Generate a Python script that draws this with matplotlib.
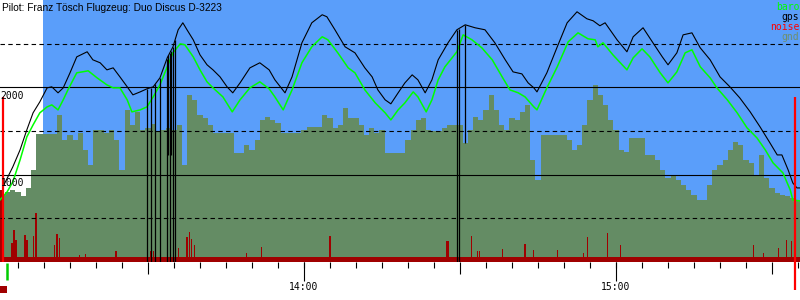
import matplotlib
matplotlib.use("Agg")
import matplotlib.pyplot as plt
import numpy as np

# time in minutes after 13:00, altitudes in metres

title = "Pilot: Franz Tösch Flugzeug: Duo Discus D-3223"

gps_t = [2.1, 4.0, 5.4, 6.7, 7.9, 9.2, 10.6, 11.5, 12.7, 13.7, 15.0, 16.3, 18.3, 19.4,
         20.8, 22.1, 23.3, 24.6, 26.0, 27.1, 28.5, 29.8, 31.0, 32.3, 33.7, 34.8, 35.8,
         36.7, 37.5, 38.7, 40.0, 41.35, 42.5, 43.85, 45.2, 46.3, 47.7, 49.6, 51.5, 53.3,
         54.4, 56.35, 57.7, 59.6, 61.5, 63.5, 64.4, 65.95, 67.9, 69.8, 71.7, 73.1, 74.2,
         75.6, 76.7, 78.1, 79.4, 80.8, 81.9, 83.3, 84.6, 85.8, 87.7, 89.4, 91.0, 92.9,
         94.8, 96.7, 98.7, 100.2, 101.9, 103.1, 104.2, 104.8, 106.7, 108.7, 110.6, 112.5,
         114.4, 115.6, 116.9, 117.9, 120.2, 122.1, 123.3, 125.2, 127.1, 128.9, 130.0,
         131.7, 132.9, 134.6, 136.2, 138.1, 140.0, 141.9, 143.8, 145.8, 147.7, 149.6,
         151.0, 151.9, 153.1, 154.0, 154.8, 155.4]
gps_alt = [860, 1089, 1284, 1513, 1708, 1834, 1994, 2006, 1937, 1994, 2166, 2349, 2407, 2315,
           2281, 2200, 2223, 2120, 2006, 1914, 1948, 1983, 2006, 2109, 2338, 2464, 2659,
           2739, 2659, 2544, 2372, 2258, 2200, 2120, 2006, 1937, 2051, 2223, 2281, 2200,
           2086, 1937, 2120, 2510, 2739, 2831, 2808, 2659, 2464, 2395, 2223, 2120, 1971,
           1857, 1811, 1937, 2051, 2143, 2086, 1937, 2086, 2315, 2510, 2659, 2716, 2682,
           2659, 2510, 2315, 2177, 2154, 2051, 1994, 1948, 2166, 2464, 2739, 2865,
           2785, 2762, 2705, 2739, 2544, 2407, 2579, 2682, 2510, 2349, 2258,
           2395, 2601, 2624, 2452, 2315, 2120, 2006, 1879, 1719, 1547, 1364,
           1226, 1226, 1054, 905, 848, 848]

# gps dropouts (vertical lines down to these altitudes)
drop_t = [29.81, 30.58, 31.35, 32.31, 33.65, 33.94, 34.23, 34.42, 34.81, 35.19,
          89.43, 89.81, 90.96]
drop_alt = [0, 0, 0, 0, 0, 1226, 0, 1226, 0, 0, 0, 0, 1364]

baro_t = [1.54, 2.9, 4.0, 5.4, 6.7, 7.9, 9.2, 10.6, 11.5, 12.7, 13.7, 14.6, 16.3, 18.5,
          20.2, 22.1, 23.3, 24.6, 26.0, 26.9, 28.5, 29.8, 31.0, 32.3, 33.7, 34.8, 36.2,
          37.1, 38.7, 40.0, 41.35, 42.5, 44.4, 46.2, 47.7, 49.6, 51.5, 53.3, 54.4, 56.0,
          57.7, 59.6, 61.5, 63.5, 64.6, 66.5, 68.5, 69.8, 71.7, 73.7, 75.6, 76.7, 78.1,
          79.4, 81.0, 81.9, 83.5, 84.6, 85.8, 87.1, 89.4, 90.6, 92.3, 94.2, 96.2, 98.1,
          99.6, 101.2, 102.5, 104.2, 104.8, 106.7, 108.7, 110.8, 112.7, 114.6, 116.0,
          116.5, 117.5, 119.4, 122.1, 123.3, 125.0, 126.5, 128.5, 130.0, 131.7, 133.3,
          134.6, 136.2, 138.1, 139.4, 141.4, 143.3, 145.2, 147.1, 148.7, 150.2, 152.1,
          153.5, 154.0, 155.4]
baro_alt = [711, 802, 917, 1169, 1433, 1570, 1708, 1776, 1799, 1742, 1857, 1971, 2166, 2189,
            2109, 2028, 1994, 1994, 1857, 1719, 1742, 1776, 1891, 2028, 2235, 2395, 2498,
            2487, 2349, 2200, 2063, 1994, 1891, 1719, 1857, 1994, 2063, 1983, 1891, 1742,
            1971, 2281, 2464, 2579, 2544, 2395, 2223, 2166, 1971, 1822, 1708, 1627, 1742,
            1822, 1948, 1891, 1719, 1857, 2086, 2235, 2407, 2601, 2544, 2452, 2315, 2120,
            1971, 1937, 1891, 1776, 1742, 1994, 2235, 2521, 2624, 2556, 2544,
            2464, 2510, 2372, 2200, 2338, 2441, 2349, 2166, 2051, 2177, 2395,
            2430, 2235, 2109, 1994, 1857, 1708, 1536, 1421, 1284, 1135, 1020,
            825, 711, 699]

# terrain, one value per minute from 13:02 to 15:35
gnd_start = 2
gnd_alt = [768, 802, 825, 802, 756, 848, 1054, 1467, 1467, 1467, 1467, 1685, 1398, 1455,
           1398, 1478, 1284, 1112, 1513, 1513, 1478, 1513, 1398, 1054, 1742, 1570, 1719,
           1513, 1536, 1581, 1490, 1513, 1536, 1513, 1570, 1112, 1914, 1857, 1685, 1650,
           1570, 1478, 1478, 1478, 1478, 1249, 1249, 1341, 1284, 1398, 1627, 1662, 1627,
           1593, 1478, 1478, 1478, 1478, 1513, 1547, 1547, 1547, 1685, 1650, 1536, 1570,
           1765, 1650, 1650, 1570, 1455, 1536, 1478, 1513, 1249, 1249, 1249, 1249, 1398,
           1513, 1627, 1650, 1513, 1501, 1501, 1536, 1570, 1570, 1570, 1364, 1513, 1662,
           1627, 1742, 1914, 1742, 1570, 1513, 1650, 1627, 1719, 1799, 1169, 940, 1455,
           1455, 1455, 1455, 1455, 1398, 1284, 1341, 1570, 1857, 2028, 1914, 1799, 1627,
           1513, 1284, 1261, 1421, 1421, 1421, 1226, 1226, 1169, 1054, 963, 997, 940, 882,
           825, 768, 711, 711, 882, 1054, 1112, 1169, 1284, 1375, 1341, 1169, 1135, 997,
           1226, 963, 848, 791, 768, 756, 733, 711]

noise_base = 55
noise_t = [1.73, 3.85, 4.23, 4.62, 6.35, 6.73, 7.9, 8.46, 12.1, 12.5, 12.9, 16.9, 17.9,
           23.85, 30.4, 31.0, 35.2, 35.8, 37.5, 37.9, 38.3, 39.0, 49.0, 51.9, 65.0, 87.5,
           87.7, 92.3, 93.3, 93.7, 98.1, 102.5, 104.2, 108.7, 113.7, 114.6, 118.3, 120.8,
           146.5, 148.3, 151.2, 152.7, 153.7]
noise_alt = [825, 218, 367, 252, 309, 252, 298, 562, 195, 321, 275, 80, 92,
             126, 126, 126, 138, 160, 286, 344, 264, 195, 103, 172, 298, 241,
             241, 298, 126, 126, 149, 206, 138, 138, 103, 286, 332, 195,
             195, 103, 160, 252, 241]

# engine / noise markers at take-off and landing
mark_t = [2.1, 154.5]
mark_top = [1890, 1890]

sky_start = 9.8
t0, t1 = 1.54, 155.38

C_SKY = '#5a9efa'
C_GND = '#648c64'
C_NOISE = '#a00000'

fig = plt.figure(figsize=(8, 3), dpi=100)
ax = fig.add_axes([0, 38 / 300, 1, 262 / 300])
ax.set_xlim(t0, t1)
ax.set_ylim(0, 3000)
for s in ax.spines.values():
    s.set_visible(False)

ax.axvspan(sky_start, t1, color=C_SKY, lw=0, zorder=0)

gt = np.arange(len(gnd_alt)) + gnd_start
ax.bar(gt, gnd_alt, width=1.02, color=C_GND, lw=0, zorder=1)

ax.axhspan(0, noise_base, color=C_NOISE, lw=0, zorder=2)
ax.bar(noise_t, noise_alt, width=0.2, color=C_NOISE, lw=0, zorder=2)

for a in [1000, 2000]:
    ax.axhline(a, color='black', lw=0.8, zorder=3)
for a in [500, 1500, 2500]:
    ax.axhline(a, color='black', lw=0.8, ls=(0, (4, 3)), zorder=3)

ax.plot(baro_t, baro_alt, color='#00ff00', lw=1.1, zorder=4)
ax.plot(gps_t, gps_alt, color='black', lw=0.8, zorder=5)
top = np.interp(drop_t, gps_t, gps_alt)
ax.vlines(drop_t, drop_alt, top, color='black', lw=0.9, zorder=5)

ax.vlines(mark_t, 0, mark_top, color='#ff0000', lw=1.6, zorder=6)
ax.vlines(mark_t[1], -320, 0, color='#ff0000', lw=1.6, zorder=6, clip_on=False)
ax.vlines(baro_t[1], -210, -10, color='#00cc00', lw=1.8, clip_on=False)
ax.bar(t0, -80, bottom=-270, width=1.4, align='edge', color=C_NOISE, clip_on=False)

# time axis
five = np.arange(5, 156, 5)
ax.set_xticks(five, minor=True)
ax.set_xticks([30, 90, 150])
ax.set_xticklabels([])
ax.tick_params(axis='x', which='minor', length=4.3, width=0.8, color='black')
ax.tick_params(axis='x', which='major', length=8.6, width=0.8, color='black')
ax.set_yticks([])
sec = ax.secondary_xaxis('bottom')
sec.set_xticks([60, 120])
sec.set_xticklabels(['14:00', '15:00'], family='DejaVu Sans Mono', fontsize=7)
sec.tick_params(length=13.5, width=0.8, pad=1)
sec.spines['bottom'].set_visible(False)

for a in [1000, 2000]:
    ax.text(t0 + 0.1, a - 40, str(a), ha='left', va='top', fontsize=7,
            family='DejaVu Sans Mono', zorder=7)

fig.text(0.002, 1 - 8 / 300, title, ha='left', va='center', fontsize=7.3,
         family='Liberation Sans')

legend = [('baro', '#00ff00'), ('gps', 'black'), ('noise', '#ff0000'), ('gnd', '#6f8f6f')]
for i, (name, c) in enumerate(legend):
    fig.text(0.999, 1 - (7 + 10 * i) / 300, name, ha='right', va='center', color=c,
             fontsize=7, family='DejaVu Sans Mono')

fig.savefig('out.png', dpi=100)
